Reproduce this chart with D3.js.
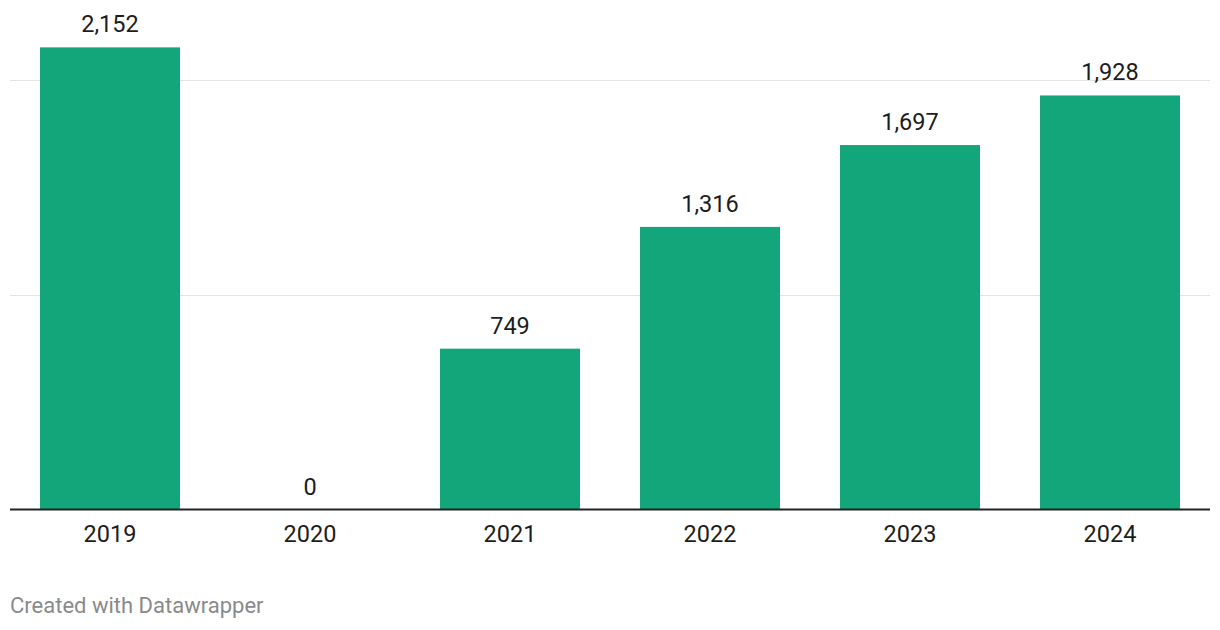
<!DOCTYPE html>
<html><head><meta charset="utf-8">
<script src="https://cdn.jsdelivr.net/npm/d3@7"></script>
<style>
html,body{margin:0;padding:0;background:#fff;}
svg{display:block;font-family:Roboto,"Noto Sans",sans-serif;}
</style></head>
<body>
<svg id="c" width="1220" height="630"></svg>
<script>
const categories = ["2019","2020","2021","2022","2023","2024"];
const values = [2152, 0, 749, 1316, 1697, 1928];
const gridTicks = [1000, 2000];

const svg = d3.select("#c");
const left = 10, right = 1210, baseY = 509.5;
const x = d3.scaleBand().domain(categories).range([left, right]).paddingInner(0.3).paddingOuter(0.15);
const y = d3.scaleLinear().domain([0, 2000]).range([baseY, 80]);
const fmt = d3.format(",");

svg.append("g").selectAll("line").data(gridTicks).join("line")
  .attr("x1", left).attr("x2", right)
  .attr("y1", d => Math.round(y(d)) + 0.5).attr("y2", d => Math.round(y(d)) + 0.5)
  .attr("stroke", "#e3e3e3").attr("stroke-width", 1);

svg.append("g").selectAll("rect").data(values).join("rect")
  .attr("x", (d,i) => x(categories[i]))
  .attr("width", x.bandwidth())
  .attr("y", d => y(d))
  .attr("height", d => baseY - y(d))
  .attr("fill", "#13a67a");

svg.append("line").attr("x1", left).attr("x2", right)
  .attr("y1", baseY).attr("y2", baseY)
  .attr("stroke", "#222").attr("stroke-width", 2);

svg.append("g").selectAll("text").data(values).join("text")
  .attr("x", (d,i) => x(categories[i]) + x.bandwidth()/2)
  .attr("y", d => y(d) - 15)
  .attr("text-anchor", "middle")
  .attr("font-size", 23.5)
  .attr("fill", "#1d1d1d")
  .text(d => fmt(d));

svg.append("g").selectAll("text").data(categories).join("text")
  .attr("x", d => x(d) + x.bandwidth()/2)
  .attr("y", 542)
  .attr("text-anchor", "middle")
  .attr("font-size", 23.5)
  .attr("fill", "#1d1d1d")
  .text(d => d);

svg.append("text").attr("x", 10).attr("y", 613)
  .attr("font-size", 22).attr("fill", "#8a8a8a")
  .text("Created with Datawrapper");
</script>
</body></html>
